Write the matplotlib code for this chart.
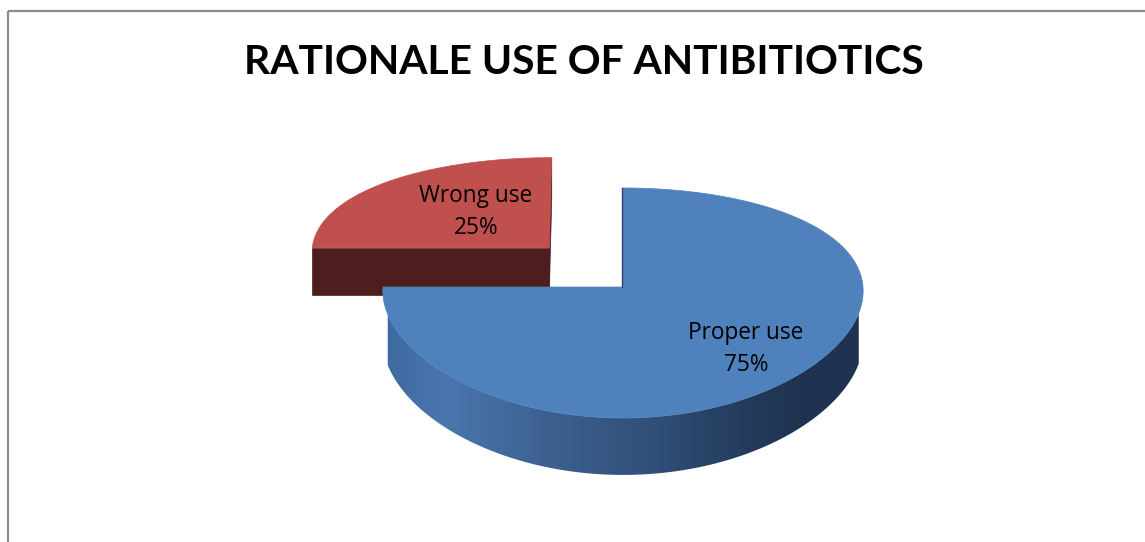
import numpy as np
import matplotlib
matplotlib.use("Agg")
import matplotlib.pyplot as plt
from matplotlib.patches import Polygon
from matplotlib.colors import LinearSegmentedColormap

# ---- data ----
categories = ["Proper use", "Wrong use"]
values = [75, 25]
explode = [0.0, 0.44]
title = "RATIONALE USE OF ANTIBITIOTICS"

top_colors = ["#4F81BD", "#C0504D"]
face_colors = ["#2B4468", "#4D1E1E"]

W, H = 1145, 542
fig = plt.figure(figsize=(W / 100, H / 100), dpi=100)
ax = fig.add_axes([0, 0, 1, 1])
ax.set_xlim(0, W)
ax.set_ylim(H, 0)
ax.axis("off")

# border (top and left visible)
ax.plot([7.5, W], [10.5, 10.5], color="#8C8C8C", lw=1.6, solid_capstyle="butt")
ax.plot([7.5, 7.5], [10.5, H], color="#8C8C8C", lw=1.6, solid_capstyle="butt")

ax.text(584, 62, title, ha="center", va="center", fontsize=29.3,
        fontweight="bold", family=["Lato", "DejaVu Sans"], color="black")

# ---- pseudo 3-D projection ----
cx, cy = 623, 287
R = 240.0
A = 112.8      # screen scale of depth axis
KY = 0.139     # perspective factor (vertical)
KX = 0.035     # perspective factor (horizontal)
TH = 49.0      # thickness
Z0 = 0.22      # wall silhouette starts here
DEPTH_GAIN = 1.17  # explosion appears stronger in depth


def proj(X, Z, d):
    X = np.asarray(X, float)
    Z = np.asarray(Z, float)
    sx = 1.0 / (1.0 - KX * Z)
    sy = 1.0 / (1.0 - KY * Z)
    return cx + R * X * sx, cy + (A * Z + TH * d) * sy


def area(xs, ys):
    return 0.5 * np.sum(xs * np.roll(ys, -1) - np.roll(xs, -1) * ys)


wall_cmap = LinearSegmentedColormap.from_list(
    "wall", [(0.0, "#3F6AA0"), (0.12, "#4A76AE"), (0.35, "#3C5F8E"),
             (0.55, "#31507A"), (0.75, "#243B5C"), (0.88, "#1F3350"),
             (1.0, "#1F3350")])

total = float(sum(values))
start = 90.0
slices = []
for i, v in enumerate(values):
    t1 = start
    t2 = start - 360.0 * v / total
    start = t2
    mid = np.radians((t1 + t2) / 2)
    ox = explode[i] * np.cos(mid)
    oz = -explode[i] * np.sin(mid) * DEPTH_GAIN
    slices.append((i, t1, t2, ox, oz))

order = sorted(slices, key=lambda s: s[4])
for i, t1, t2, ox, oz in order:
    th = np.radians(np.linspace(t1, t2, 300))
    rx = ox + np.cos(th)
    rz = oz - np.sin(th)
    # radial cut faces
    for tt, sign in ((t1, -1), (t2, 1)):
        r = np.radians(tt)
        X = [ox, ox + np.cos(r), ox + np.cos(r), ox]
        Z = [oz, oz - np.sin(r), oz - np.sin(r), oz]
        xs, ys = proj(X, Z, np.array([0, 0, 1, 1]))
        if area(xs, ys) * sign > 1.0:
            ax.add_patch(Polygon(np.c_[xs, ys], closed=True,
                                 facecolor=face_colors[i], edgecolor=face_colors[i],
                                 lw=0.5, zorder=2))
    # outer wall (front part) with horizontal gradient
    vis = (-np.sin(th)) >= Z0
    if vis.any():
        wx, wz = rx[vis], rz[vis]
        xt, yt = proj(wx, wz, 0)
        xb, yb = proj(wx, wz, 1)
        pts = np.r_[np.c_[xt, yt], np.c_[xb, yb][::-1]]
        clip = Polygon(pts, closed=True, facecolor="none", edgecolor="none")
        ax.add_patch(clip)
        grad = np.linspace(0, 1, 512)[None, :]
        im = ax.imshow(grad, cmap=wall_cmap, extent=(386, 866, yb.max() + 2, yt.min() - 2),
                       aspect="auto", zorder=2, interpolation="bilinear")
        im.set_clip_path(clip)
        ax.set_xlim(0, W)
        ax.set_ylim(H, 0)
    # top surface
    xs, ys = proj(np.r_[ox, rx], np.r_[oz, rz], 0)
    ax.add_patch(Polygon(np.c_[xs, ys], closed=True, facecolor=top_colors[i],
                         edgecolor=top_colors[i], lw=0.5, zorder=2.5))
    if i == 0:
        r = np.radians(t1)
        ex, ey = proj([ox, ox + np.cos(r)], [oz, oz - np.sin(r)], 0)
        ax.plot(ex - 1, ey, color="#2B4468", lw=1.0, zorder=3)

# labels
lab_font = ["Open Sans", "DejaVu Sans"]
ax.text(746, 349, "Proper use\n75%", ha="center", va="center", fontsize=16.3,
        family=lab_font, linespacing=1.42, zorder=5)
ax.text(476, 212, "Wrong use\n25%", ha="center", va="center", fontsize=16.3,
        family=lab_font, linespacing=1.42, zorder=5)

fig.savefig("out.png", dpi=100)
